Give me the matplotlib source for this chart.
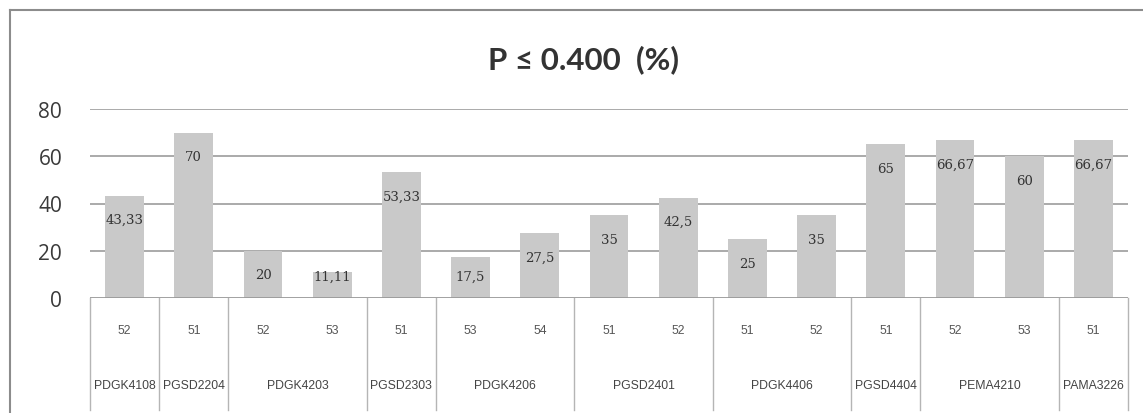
import matplotlib.pyplot as plt
from matplotlib.lines import Line2D
import matplotlib.transforms as mtransforms

# inner category (trial) labels, outer group labels and percentages
inner_labels = ["52", "51", "52", "53", "51", "53", "54", "51", "52",
                "51", "52", "51", "52", "53", "51"]
groups = ["PDGK4108", "PGSD2204", "PDGK4203", "PGSD2303", "PDGK4206",
          "PGSD2401", "PDGK4406", "PGSD4404", "PEMA4210", "PAMA3226"]
group_sizes = [1, 1, 2, 1, 2, 2, 2, 1, 2, 1]
values = [43.33, 70, 20, 11.11, 53.33, 17.5, 27.5, 35, 42.5,
          25, 35, 65, 66.67, 60, 66.67]
yticks = [0, 20, 40, 60, 80]

W, H = 1143, 414
fig = plt.figure(figsize=(W / 100, H / 100), dpi=100)

# plot area in pixel terms
x0, x1 = 90, 1128
y_top, y_base = 110, 299
ax = fig.add_axes([x0 / W, 1 - y_base / H, (x1 - x0) / W, (y_base - y_top) / H])

n = len(values)
xs = list(range(n))
ax.bar(xs, values, width=0.56, color="#c9c9c9", zorder=2)
ax.set_xlim(-0.5, n - 0.5)
ax.set_ylim(0, 80)

for v in yticks[1:]:
    ax.axhline(v, color="#a4a4a4", lw=1.3, zorder=1)
ax.axhline(0, color="#9a9a9a", lw=1.3, zorder=3)

for s in ax.spines.values():
    s.set_visible(False)

ax.set_yticks(yticks)
ax.set_yticklabels([str(t) for t in yticks], fontsize=15, color="#3a3a3a",
                   family="Open Sans")
ax.tick_params(axis="y", length=0, pad=20)
ax.set_xticks([])

# value labels inside the bars
for x, v in zip(xs, values):
    txt = ("%g" % v).replace(".", ",")
    ax.text(x, max(v - 10.2, 9.3), txt, ha="center", va="center",
            fontsize=9.5, color="#333333", family="DejaVu Serif")

# two-level category table under the axis
trans = mtransforms.blended_transform_factory(ax.transData, ax.transAxes)
px = 1 / (y_base - y_top)
for x, lab in zip(xs, inner_labels):
    ax.text(x, -32 * px, lab, transform=trans, ha="center", va="center",
            fontsize=8.8, color="#555555", family="Liberation Sans")

edges = [-0.5]
for g in group_sizes:
    edges.append(edges[-1] + g)
for i, g in enumerate(groups):
    mid = (edges[i] + edges[i + 1]) / 2
    ax.text(mid, -87 * px, g, transform=trans, ha="center", va="center",
            fontsize=8.8, color="#444444", family="Liberation Sans")
for e in edges:
    ax.add_line(Line2D([e, e], [0, -112 * px], transform=trans,
                       color="#b5b5b5", lw=1, clip_on=False))

# title and outer chart frame
fig.text(583 / W, 1 - 60 / H, "P ≤ 0.400  (%)", ha="center", va="center",
         fontsize=22.5, fontweight="bold", color="#333333", family="Lato")
fig.add_artist(Line2D([10 / W, 10 / W], [0, 1 - 11 / H], transform=fig.transFigure,
                      color="#8c8c8c", lw=1.5))
fig.add_artist(Line2D([10 / W, 1], [1 - 11 / H, 1 - 11 / H], transform=fig.transFigure,
                      color="#8c8c8c", lw=1.5))

fig.savefig("out.png", dpi=100)
